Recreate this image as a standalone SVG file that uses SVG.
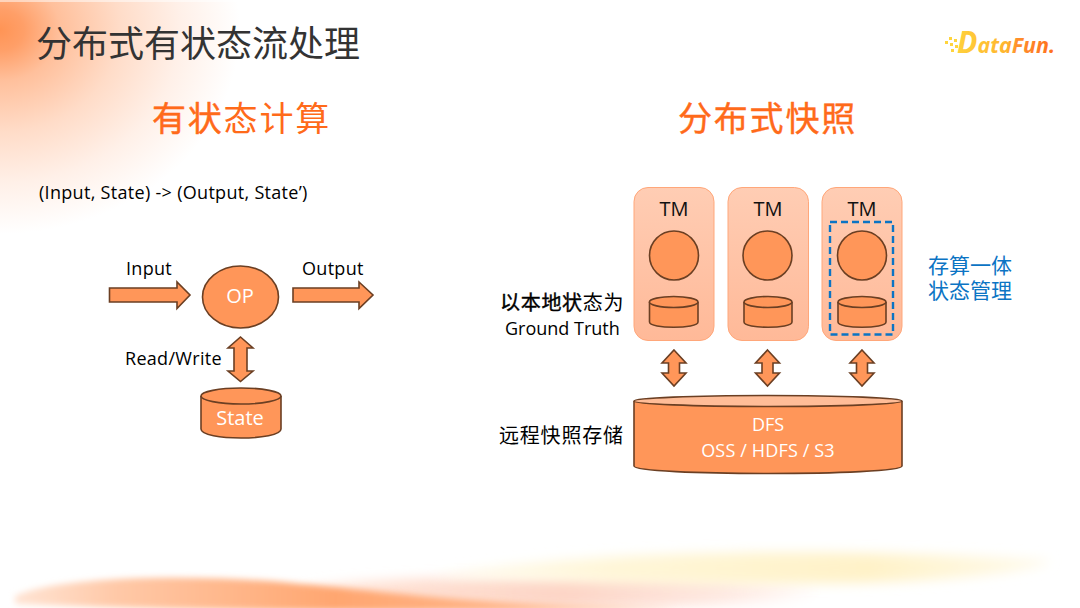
<svg xmlns="http://www.w3.org/2000/svg" width="1080" height="608" viewBox="0 0 1080 608">
<style>
text{font-family:"Open Sans","Noto Sans CJK SC",sans-serif}
.cjk{font-family:"Noto Sans CJK SC",sans-serif}
.s{fill:#ff9659;stroke:#6b3f23;stroke-width:1.6}
.t{fill:#000;font-size:18px;letter-spacing:.3px}
.w{fill:#fff;text-anchor:middle}
.b{fill:url(#box);stroke:#ffa77a;stroke-width:1}
.h{fill:#ff6a1a;font-size:34px;letter-spacing:1.8px}
.tm{fill:#111;font-size:20px;text-anchor:middle}
</style>
<defs>
<linearGradient id="box" x1="0" y1="0" x2="0" y2="1"><stop offset="0" stop-color="#ffcdb4"/><stop offset="1" stop-color="#ffb998"/></linearGradient>
<linearGradient id="logo" gradientUnits="userSpaceOnUse" x1="958" y1="0" x2="1054" y2="0"><stop offset="0" stop-color="#ffd03c"/><stop offset=".5" stop-color="#ffb52e"/><stop offset=".62" stop-color="#ff8f2c"/><stop offset="1" stop-color="#ff6f1e"/></linearGradient>
<radialGradient id="corner" gradientUnits="userSpaceOnUse" cx="0" cy="0" r="240" gradientTransform="translate(0 30) scale(1 .85)"><stop offset="0" stop-color="#ff9455"/><stop offset=".1" stop-color="#ff9f68"/><stop offset=".25" stop-color="#ffc09c"/><stop offset=".5" stop-color="#ffdcc8"/><stop offset=".75" stop-color="#fff0e8"/><stop offset="1" stop-color="#fff"/></radialGradient>
<linearGradient id="g-orange" gradientUnits="userSpaceOnUse" x1="15" y1="0" x2="680" y2="0"><stop offset="0" stop-color="#ffe4d4"/><stop offset=".15" stop-color="#ffc9a8"/><stop offset=".48" stop-color="#ffa670"/><stop offset=".75" stop-color="#ffb589"/><stop offset="1" stop-color="#ffd9c2"/></linearGradient>
<linearGradient id="g-yellow" gradientUnits="userSpaceOnUse" x1="420" y1="0" x2="1060" y2="0"><stop offset="0" stop-color="#fffdf4"/><stop offset=".3" stop-color="#fff6d8"/><stop offset=".7" stop-color="#fff2c8"/><stop offset="1" stop-color="#fffbee"/></linearGradient>
<linearGradient id="g-pink" gradientUnits="userSpaceOnUse" x1="300" y1="0" x2="830" y2="0"><stop offset="0" stop-color="#ffe8dc"/><stop offset=".5" stop-color="#fdd5c6"/><stop offset=".8" stop-color="#fee9e2"/><stop offset="1" stop-color="#fff"/></linearGradient>
<filter id="blur" x="-20%" y="-100%" width="140%" height="300%"><feGaussianBlur stdDeviation="6"/></filter>
<filter id="blur2" x="-20%" y="-100%" width="140%" height="300%"><feGaussianBlur stdDeviation="3"/></filter>
<clipPath id="page"><rect width="1080" height="608"/></clipPath>
<path id="dbl" d="M0-18 12-5H5.500V5H12L0 18-12 5H-5.500V-5H-12Z"/>
</defs>
<rect width="1080" height="608" fill="#fff"/>
<g id="background" clip-path="url(#page)">
<rect width="250" height="240" fill="url(#corner)"/>
<rect width="250" height="2" fill="#fff" opacity=".5"/>
<ellipse cx="560" cy="592" rx="260" ry="16" fill="url(#g-pink)" filter="url(#blur)"/>
<path d="M430 576C560 552 800 546 1050 560 1052 570 960 581 860 583 700 586 540 582 430 576Z" fill="url(#g-yellow)" filter="url(#blur)"/>
<path d="M15 596C50 578 170 574 270 581 350 588 410 596 500 602 560 606 620 606 680 608 500 612 200 612 15 604Z" fill="url(#g-orange)" filter="url(#blur2)"/>
</g>
<g id="logo-mark">
<g fill="#ffd43c"><rect x="945" y="41" width="3" height="3"/><rect x="949" y="37" width="3" height="3"/><rect x="950" y="43" width="3" height="3"/><rect x="954" y="39" width="3" height="3"/><rect x="955" y="45" width="3" height="3"/><rect x="951" y="49" width="3" height="3"/></g>
<text x="957" y="53" font-style="italic" font-weight="700" fill="url(#logo)" textLength="98" lengthAdjust="spacingAndGlyphs" style="font-family:'Open Sans',sans-serif"><tspan font-size="31">D</tspan><tspan font-size="22">ataFun.</tspan></text>
</g>
<text id="title" class="cjk" x="36" y="57" font-size="36" fill="#333">分布式有状态流处理</text>
<text id="heading-left" class="cjk h" x="152" y="131"><tspan stroke="#ff6a1a" stroke-width=".5">有状</tspan>态计算</text>
<text id="heading-right" class="cjk h" x="678" y="131" stroke="#ff6a1a" stroke-width=".4">分布式快照</text>
<text id="formula" class="t" x="39" y="199">(Input, State) -&gt; (Output, State’)</text>
<g id="connectors">
<path class="s" d="M109.500 288H177V282L190 295 177 308.500V302H109.500Z"/>
<path class="s" d="M293 288H359V282L373 295 359 308.500V302H293Z"/>
<path class="s" d="M240.500 337 253 348H247V371H253L240.500 381.500 228 371H234V348H228Z"/>
<use href="#dbl" x="674" y="368" class="s"/>
<use href="#dbl" x="767.500" y="368" class="s"/>
<use href="#dbl" x="862" y="368" class="s"/>
</g>
<text id="label-input" class="t" x="126" y="275">Input</text>
<text id="label-output" class="t" x="302" y="275">Output</text>
<text id="label-rw" class="t" x="125" y="365">Read/Write</text>
<g id="op"><ellipse class="s" cx="240.500" cy="297" rx="38" ry="31"/><text class="w" x="240" y="303" font-size="20">OP</text></g>
<g id="state">
<path class="s" d="M201 396V429C201 441 281 441 281 429V396"/>
<ellipse class="s" cx="241" cy="396" rx="40" ry="8"/>
<text class="w" x="240" y="425" font-size="20">State</text>
</g>
<g id="tm1">
<rect class="b" x="634" y="187.500" width="80" height="153" rx="14"/>
<text class="tm" x="674" y="216">TM</text>
<circle class="s" cx="674" cy="255.500" r="24.500"/>
<path class="s" d="M649.500 302V322C649.500 329 698 329 698 322V302"/><ellipse class="s" cx="673.700" cy="302" rx="24.300" ry="5.500"/>
</g>
<g id="tm2">
<rect class="b" x="728" y="187.500" width="80.500" height="153" rx="14"/>
<text class="tm" x="768" y="216">TM</text>
<circle class="s" cx="767.500" cy="255.500" r="24.500"/>
<path class="s" d="M744 302V322C744 329 792 329 792 322V302"/><ellipse class="s" cx="768" cy="302" rx="24" ry="5.500"/>
</g>
<g id="tm3">
<rect class="b" x="822" y="187.500" width="80" height="153" rx="14"/>
<text class="tm" x="862" y="216">TM</text>
<circle class="s" cx="862" cy="255.500" r="24.500"/>
<path class="s" d="M838 302V322C838 329 886 329 886 322V302"/><ellipse class="s" cx="862" cy="302" rx="24" ry="5.500"/>
<rect x="830" y="222" width="63" height="112.500" fill="none" stroke="#0b74c4" stroke-width="2.400" stroke-dasharray="7 4"/>
</g>
<g id="dfs">
<path class="s" d="M634 401V466C634 476 902 476 902 466V401"/>
<ellipse cx="768" cy="401" rx="134" ry="5.500" fill="#ffbd98" stroke="#6b3f23" stroke-width="1.600"/>
<text class="w" x="768" y="431" font-size="18">DFS</text>
<text class="w" x="768" y="457" font-size="18" letter-spacing=".15">OSS / HDFS / S3</text>
</g>
<text id="note-local" font-size="18" fill="#000"><tspan x="500" y="310" class="cjk" font-size="20" letter-spacing=".7"><tspan stroke="#000" stroke-width=".4">以本地状</tspan>态为</tspan><tspan x="505" y="335">Ground Truth</tspan></text>
<text id="note-remote" class="cjk" x="499" y="443" font-size="20" letter-spacing=".8" fill="#000">远程快照存储</text>
<text id="note-blue" class="cjk" font-size="21" fill="#0b74c4"><tspan x="928" y="273">存算一体</tspan><tspan x="928" y="298">状态管理</tspan></text>
</svg>
